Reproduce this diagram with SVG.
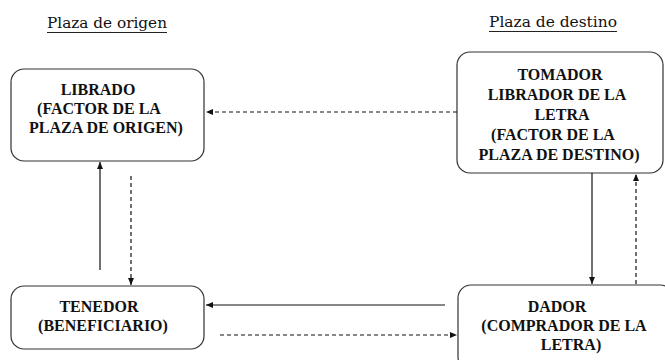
<svg xmlns="http://www.w3.org/2000/svg" width="665" height="360" viewBox="0 0 665 360">
  <defs>
    <marker id="arr" markerWidth="7" markerHeight="6" refX="7" refY="3" orient="auto" markerUnits="userSpaceOnUse">
      <path d="M0,0 L7,3 L0,6 z" fill="#111"/>
    </marker>
  </defs>
  <style>
    .box { fill: #fff; stroke: #333; stroke-width: 1.2; }
    .t { font-family: "Liberation Serif", "Times New Roman", serif; font-weight: bold; font-size: 16px; fill: #111; text-anchor: middle; }
    .title { font-family: "DejaVu Serif", "Liberation Serif", serif; font-size: 15px; fill: #111; text-anchor: middle; }
    .ul { stroke: #222; stroke-width: 1.2; }
    .solid { fill: none; stroke: #111; stroke-width: 1.2; }
    .dash { fill: none; stroke: #111; stroke-width: 1.2; stroke-dasharray: 4 3; }
  </style>
  <rect width="665" height="360" fill="#fff"/>

  <g id="title-origen">
    <text class="title" x="107" y="28" textLength="120" lengthAdjust="spacingAndGlyphs">Plaza de origen</text>
    <line class="ul" x1="47" y1="32.5" x2="167" y2="32.5"/>
  </g>
  <g id="title-destino">
    <text class="title" x="553" y="27" textLength="128" lengthAdjust="spacingAndGlyphs">Plaza de destino</text>
    <line class="ul" x1="489" y1="31.5" x2="617" y2="31.5"/>
  </g>

  <g id="librado">
    <rect class="box" x="11" y="69" width="193" height="92" rx="13"/>
    <text class="t" x="98" y="95">LIBRADO</text>
    <text class="t" x="99" y="114">(FACTOR DE LA</text>
    <text class="t" x="106" y="133">PLAZA DE ORIGEN)</text>
  </g>

  <g id="tomador">
    <rect class="box" x="457" y="52" width="206" height="121" rx="13"/>
    <text class="t" x="560" y="80">TOMADOR</text>
    <text class="t" x="557" y="100">LIBRADOR DE LA</text>
    <text class="t" x="562" y="120">LETRA</text>
    <text class="t" x="553" y="140">(FACTOR DE LA</text>
    <text class="t" x="559" y="160">PLAZA DE DESTINO)</text>
  </g>

  <g id="tenedor">
    <rect class="box" x="11" y="286" width="193" height="63" rx="13"/>
    <text class="t" x="99" y="312">TENEDOR</text>
    <text class="t" x="103" y="331">(BENEFICIARIO)</text>
  </g>

  <g id="dador">
    <rect class="box" x="458" y="285" width="215" height="85" rx="13"/>
    <text class="t" x="557" y="312">DADOR</text>
    <text class="t" x="564" y="331">(COMPRADOR DE LA</text>
    <text class="t" x="571" y="350">LETRA)</text>
  </g>

  <g id="connectors">
    <path class="dash" d="M457,112 H206" marker-end="url(#arr)"/>
    <path class="solid" d="M100,270 V162" marker-end="url(#arr)"/>
    <path class="dash" d="M131,176 V285" marker-end="url(#arr)"/>
    <path class="solid" d="M445,305 H206" marker-end="url(#arr)"/>
    <path class="dash" d="M220,335 H457" marker-end="url(#arr)"/>
    <path class="solid" d="M592,173 V284" marker-end="url(#arr)"/>
    <path class="dash" d="M636,284 V174" marker-end="url(#arr)"/>
  </g>
</svg>
